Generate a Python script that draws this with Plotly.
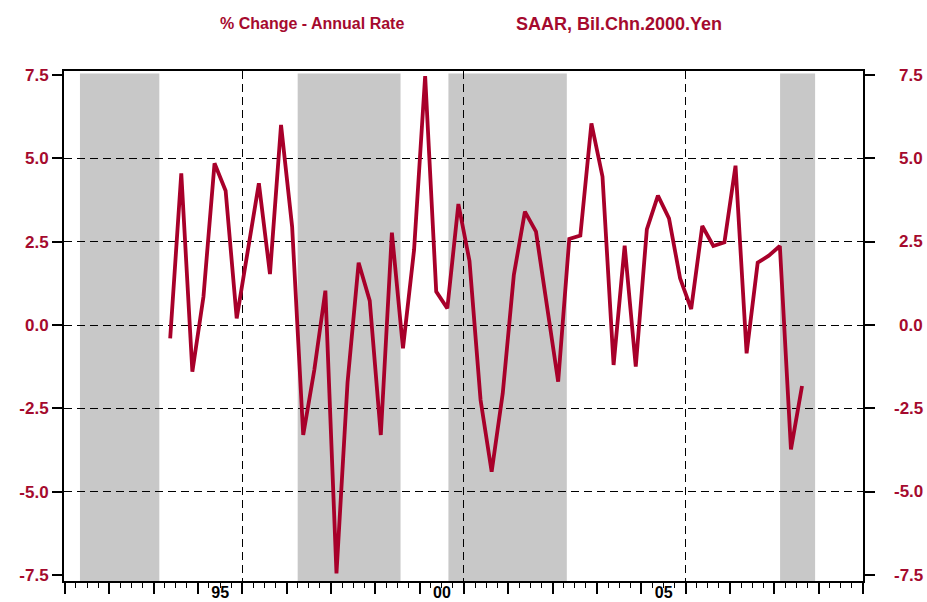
import plotly.graph_objects as go

# ---------------- data ----------------
start_year = 1993
start_quarter = 2
values = [
    -0.40, 4.55, -1.40,                 # 1993 Q2-Q4
    0.85, 4.85, 4.03, 0.20,             # 1994
    2.30, 4.25, 1.53, 6.00,             # 1995
    2.95, -3.30, -1.35, 1.03,           # 1996
    -7.45, -1.72, 1.87, 0.73,           # 1997
    -3.30, 2.77, -0.70, 2.25,           # 1998
    7.47, 1.00, 0.50, 3.63,             # 1999
    1.92, -2.25, -4.40, -2.05,          # 2000
    1.50, 3.40, 2.80, 0.60,             # 2001
    -1.70, 2.58, 2.68, 6.05,            # 2002
    4.45, -1.20, 2.38, -1.25,           # 2003
    2.87, 3.88, 3.20, 1.40,             # 2004
    0.48, 2.97, 2.37, 2.48,             # 2005
    4.78, -0.85, 1.87, 2.08,            # 2006
    2.37, -3.73, -1.83,                 # 2007 Q1-Q3
]

rec_start = [1991.34, 1996.25, 1999.65, 2007.13]
rec_end = [1993.13, 1998.57, 2002.32, 2007.92]

y_ticks = [7.5, 5.0, 2.5, 0.0, -2.5, -5.0, -7.5]
y_tick_text = ["7.5", "5.0", "2.5", "0.0", "-2.5", "-5.0", "-7.5"]
y_grid = [5.0, 2.5, 0.0, -2.5, -5.0]

x_years = list(range(1991, 2010))
x_label_years = [1995, 2000, 2005]
x_label_text = ["95", "00", "05"]

title_left = "% Change - Annual Rate"
title_right = "SAAR, Bil.Chn.2000.Yen"

# quarter mid-points as decimal years
xs = []
for i in range(len(values)):
    q = start_quarter - 1 + i
    yr = start_year + q // 4
    qq = q % 4 + 1
    xs.append(yr + (qq - 0.5) / 4)

# ---------------- style ----------------
RED = "#A50A2E"
LINE = "#A8002A"
FONT = "Liberation Sans"
X_RANGE = [1990.98, 2009.0]
Y_RANGE = [-7.68, 7.62]

fig = go.Figure()

for s, e in zip(rec_start, rec_end):
    fig.add_shape(type="rect", xref="x", yref="paper", x0=s, x1=e, y0=0, y1=0.995,
                  fillcolor="#C8C8C8", line_width=0, layer="below")

fig.add_trace(go.Scatter(x=xs, y=values, mode="lines",
                         line=dict(color=LINE, width=3.8),
                         showlegend=False, hoverinfo="x+y"))
# helper trace so the overlaying x axis (grid + labels) is drawn
fig.add_trace(go.Scatter(x=[None], y=[None], xaxis="x2", yaxis="y",
                         showlegend=False, hoverinfo="skip"))

fig.update_layout(
    width=927, height=602,
    margin=dict(l=64, r=64, t=71, b=21),
    paper_bgcolor="white", plot_bgcolor="white",
    xaxis=dict(range=X_RANGE, tickmode="array", tickvals=x_years,
               ticks="outside", ticklen=11, tickwidth=2, tickcolor="black",
               showticklabels=False, showgrid=False, zeroline=False,
               showline=True, linewidth=2, linecolor="black", mirror=True,
               minor=dict(tick0=1991, dtick=0.25, ticks="outside", ticklen=5,
                          tickwidth=1, tickcolor="black", showgrid=False),
               automargin=False),
    xaxis2=dict(range=X_RANGE, overlaying="x", side="bottom", tickmode="array",
                tickvals=x_label_years, ticktext=x_label_text, ticks="",
                ticklabelshift=-22, ticklabelstandoff=0,
                showgrid=True, gridcolor="black", gridwidth=1, griddash="8px,5px",
                showline=False, zeroline=False,
                tickfont=dict(family=FONT, size=16, color="black", weight="bold"),
                automargin=False),
    yaxis=dict(range=Y_RANGE, tickmode="array", tickvals=y_ticks, ticktext=y_tick_text,
               ticks="outside", ticklen=10, tickwidth=2, tickcolor="black",
               showgrid=False, zeroline=False,
               showline=True, linewidth=2, linecolor="black", mirror="ticks",
               tickfont=dict(family=FONT, size=17, color=RED, weight="bold"),
               minor=dict(tickmode="array", tickvals=y_grid, ticks="", showgrid=True,
                          gridcolor="black", gridwidth=1, griddash="8px,5px"),
               automargin=False),
)

# right-hand axis labels (right aligned like the original)
for v, t in zip(y_ticks, y_tick_text):
    fig.add_annotation(x=1, xref="paper", y=v, yref="y", text=t, showarrow=False,
                       xanchor="right", yanchor="middle", xshift=62,
                       font=dict(family=FONT, size=17, color=RED, weight="bold"))

title_y = 1 + (71 - 24) / 510
fig.add_annotation(x=(312 - 64) / 799, xref="paper", y=title_y, yref="paper",
                   text=title_left, showarrow=False, xanchor="center", yanchor="middle",
                   font=dict(family=FONT, size=16, color=RED, weight="bold"))
fig.add_annotation(x=(619 - 64) / 799, xref="paper", y=title_y, yref="paper",
                   text=title_right, showarrow=False, xanchor="center", yanchor="middle",
                   font=dict(family=FONT, size=18, color=RED, weight="bold"))

fig.write_html(
    "out.html",
    config={"displayModeBar": False},
    post_script="document.body.style.margin='0';document.body.style.overflow='hidden';"
                "document.documentElement.style.overflow='hidden';",
)
